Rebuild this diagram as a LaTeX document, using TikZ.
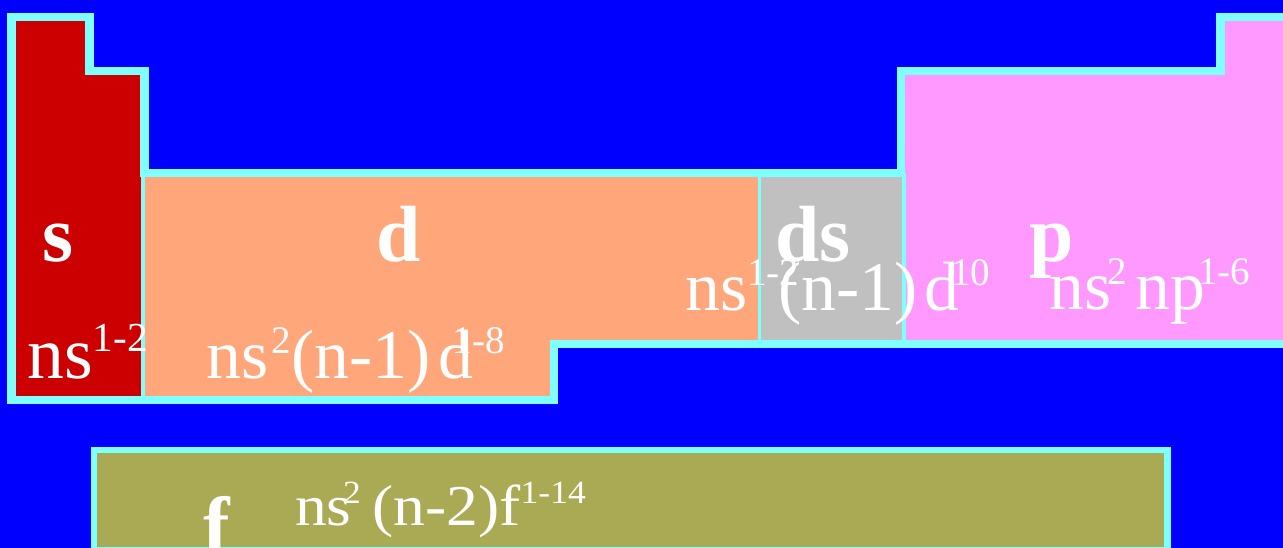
\documentclass[tikz,border=0pt]{standalone}
\usepackage{fontspec}
\setmainfont{Liberation Serif}
\newfontfamily\widefont[FakeStretch=1.1]{Liberation Serif}
\usepackage{graphicx}
\usepackage{tikz}
\definecolor{Sea}{HTML}{0000FF}
\definecolor{Rim}{HTML}{80FFFF}
\definecolor{SBlock}{HTML}{CC0000}
\definecolor{DBlock}{HTML}{FFA77B}
\definecolor{DSBlock}{HTML}{C0C0C0}
\definecolor{PBlock}{HTML}{FF99FF}
\definecolor{FBlock}{HTML}{AAAA55}
% superscript, optional kern before it
\newcommand{\hi}[2][0em]{\kern#1\raisebox{.37em}{\scalebox{.56}{#2}}}

\begin{document}
\begin{tikzpicture}[
    x=1bp, y=-1bp,
    rim/.style={draw=Rim, line width=8.5bp, line join=miter},
    seam/.style={draw=Rim, line width=4bp},
    letter/.style={text=white, inner sep=0pt, anchor=base west, font=\fontsize{80}{80}\selectfont\bfseries},
    config/.style={text=white, inner sep=0pt, anchor=base west, font=\fontsize{70}{70}\selectfont}
  ]
    \useasboundingbox (0,0) rectangle (1283,548);
    \fill[Sea] (0,0) rectangle (1283,548);

    % blocks
    \fill[SBlock] (11.5,17) -- (89.5,17) -- (89.5,71) -- (143,71) -- (143,400) -- (11.5,400) -- cycle;
    \fill[DBlock] (143,173) -- (759.5,173) -- (759.5,344) -- (554,344) -- (554,400) -- (143,400) -- cycle;
    \fill[PBlock] (901,71) -- (1220.5,71) -- (1220.5,17) -- (1290,17) -- (1290,344) -- (901,344) -- cycle;
    \fill[DSBlock] (759.5,173) rectangle (904,344);
    \fill[FBlock] (94,450) rectangle (1167.5,547);

    % borders
    \draw[seam] (143,173) -- (143,400);
    \draw[seam, line width=3bp] (759.5,173) -- (759.5,344);
    \draw[seam] (904,173) -- (904,344);
    \draw[rim] (11.5,17) -- (89.5,17) -- (89.5,71) -- (144.5,71) -- (144.5,173) -- (901,173)
      -- (901,71) -- (1220.5,71) -- (1220.5,17) -- (1295,17) -- (1295,344) -- (554,344)
      -- (554,400) -- (11.5,400) -- cycle;
    \draw[rim, line width=6.5bp] (94,450) rectangle (1167.5,550);

    % block letters
    \node[letter] (sname) at (42,262) {s};
    \node[letter] (dname) at (376,262) {d};
    \node[letter] (dsname) at (775,262) {ds};
    \node[letter] (pname) at (1029,262) {p};
    \node[letter] (fname) at (203,552) {f};

    % configurations
    \node[config, font=\fontsize{74}{74}\selectfont] (sconf) at (27,379) {ns\hi{1-2}};
    \node[config] (dconf) at (206,379) {ns\hi[.05em]{2}(n-1)\kern.12em d\hi[-.3em]{1-8}};
    \node[config] (dsconf) at (685,311) {ns\hi{1-2}\kern-.3em(n-1)\kern.1em d\hi[-.12em]{10}};
    \node[config] (pconf) at (1049,310) {ns\hi[-.05em]{2}\kern.12em np\hi[-.1em]{1-6}};
    \node[config, font=\fontsize{58}{58}\widefont] (fconf) at (295,525) {ns\hi[-.15em]{2}\kern.2em(n-2)f\hi{1-14}};
\end{tikzpicture}
\end{document}
